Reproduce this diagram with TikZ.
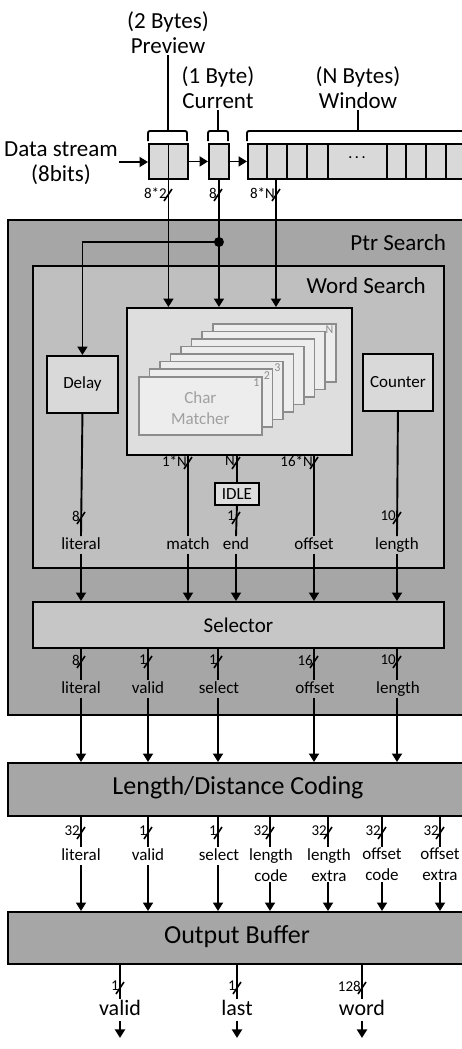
\documentclass[tikz,border=0pt]{standalone}
\usepackage{fontspec}
\setmainfont{Carlito}
\usetikzlibrary{arrows.meta,calc}
\definecolor{gPtr}{HTML}{A6A6A6}
\definecolor{gWord}{HTML}{BFBFBF}
\definecolor{gCM}{HTML}{DEDEDE}
\definecolor{gCard}{HTML}{EDEDED}
\definecolor{gCardLine}{HTML}{8C8C8C}
\definecolor{gCardText}{HTML}{A0A0A0}
\definecolor{gCell}{HTML}{D9D9D9}
\definecolor{gSel}{HTML}{C6C6C6}
\newcommand\busmk[3]{%
  \draw[slash] ($(#1)+(-4,6)$) -- ($(#1)+(4,-6)$);
  \node[bus] (#2) at ($(#1)+(-1,-2)$) {#3};}
\newcommand\mkbox[7]{%
  \node[blk,#6,minimum width={(#4-#2)*1pt},minimum height={(#5-#3)*1pt}] (#1) at (#2,#3) {#7};}
\begin{document}
\begin{tikzpicture}[x=1pt,y=-1pt,
  wire/.style={line width=1.9pt},
  slash/.style={line width=1.6pt},
  arr/.style={wire,-{Triangle[width=10pt,length=8.5pt]}},
  blk/.style={draw,line width=1.9pt,inner sep=0pt,anchor=north west},
  toplab/.style={font=\fontsize{23}{25}\selectfont,align=center,inner sep=1pt},
  lab/.style={font=\fontsize{17}{21}\selectfont,inner sep=1pt,text height=12pt,text depth=3.5pt},
  lab2/.style={font=\fontsize{17}{21}\selectfont,inner sep=1pt,align=center,anchor=north},
  big/.style={font=\fontsize{26}{28}\selectfont,inner sep=0pt},
  outlab/.style={font=\fontsize{22}{24}\selectfont,inner sep=1pt,text height=15pt,text depth=4.5pt},
  bus/.style={font=\fontsize{15}{15}\selectfont,inner sep=0pt,anchor=east},
  num/.style={font=\fontsize{12}{12}\selectfont,text=gCardLine,inner sep=0pt,anchor=north east},
 ]
\useasboundingbox (0,0) rectangle (462,1049);

% ---------- input stream ----------
\node[toplab] (pvl) at (168,33) {(2 Bytes)\\Preview};
\node[toplab] (cul) at (218,88) {(1 Byte)\\Current};
\node[toplab] (wil) at (358,88) {(N Bytes)\\Window};
\node[toplab] (ds) at (61,163) {Data stream\\(8bits)};

\mkbox{pv}{148}{143}{187}{178}{fill=gCell}{}
\mkbox{cu}{208}{143}{228}{178}{fill=gCell}{}
\mkbox{win}{247}{143}{490}{178}{fill=gCell}{}
\draw[wire] (pv.north) -- (pv.south);
\foreach \x in {267,287,307,328,387,406,426,446,466}
  \draw[wire] (\x,143) -- (\x,178);
\node[font=\fontsize{14}{14}\selectfont] (dots) at (357,159) {· · ·};

% braces
\draw[wire,rounded corners=2pt] (148,141) -- (148,131) -- (187,131) -- (187,141);
\draw[wire,rounded corners=2pt] (208,141) -- (208,131) -- (228,131) -- (228,141);
\draw[wire,rounded corners=2pt] (247,141) -- (247,131) -- (490,131);
\draw[wire] (pvl.south) -- (pvl.south |- 0,131);
\draw[wire] (cul.south) -- (cul.south |- 0,131);
\draw[wire] (wil.south) -- (wil.south |- 0,131);

\draw[arr] (ds.east |- 0,162) -- (pv.west |- 0,162);
\draw[arr] (pv.east) -- (cu.west);
\draw[arr] (cu.east) -- (win.west);

% ---------- Ptr Search ----------
\mkbox{ptr}{7}{219}{490}{714}{fill=gPtr}{}
\node[font=\fontsize{23}{25}\selectfont,anchor=east,inner sep=0pt] (ptrl) at (446,243) {Ptr Search};
\mkbox{word}{32}{265}{443}{567}{fill=gWord}{}
\node[font=\fontsize{23}{25}\selectfont,anchor=east,inner sep=0pt] (wordl) at (426,286) {Word Search};

\mkbox{cm}{126}{307}{351}{454}{fill=gCM}{}
\foreach \i in {7,6,...,0}
  \node[draw=gCardLine,fill=gCard,line width=1.6pt,minimum width=123pt,minimum height=58pt,
        inner sep=0pt,anchor=north west] (card\i) at ({138+\i*10.57},{376-\i*7.57}) {};
\node[font=\fontsize{17}{21}\selectfont,text=gCardText,align=center] (cml) at ($(card0.center)+(0,2)$) {Char\\Matcher};
\node[num] (n1) at ($(card0.north east)+(-3,3)$) {1};
\node[num] (n2) at ($(card1.north east)+(-3,3)$) {2};
\node[num] (n3) at ($(card2.north east)+(-3,3)$) {3};
\node[num] (nN) at ($(card7.north east)+(-3,3)$) {N};

\mkbox{delay}{46}{355}{117}{412}{fill=gCell}{\fontsize{17}{21}\selectfont Delay}
\mkbox{counter}{362}{353}{432}{410}{fill=gCell}{\fontsize{17}{21}\selectfont Counter}
\mkbox{idle}{214}{482}{258}{504}{fill=gCM}{\fontsize{17}{21}\selectfont IDLE}

% inputs to char matcher
\coordinate (wtap) at (276,178);
\draw[arr] (pv.south) -- (pv.south |- cm.north);
\draw[arr] (cu.south) -- (cu.south |- cm.north);
\draw[arr] (wtap) -- (wtap |- cm.north);
\coordinate (jn) at (cu.south |- 0,242);
\fill (jn) circle[radius=5pt];
\draw[arr] (jn) -| (delay.north);
\busmk{168,195}{b1}{8*2}
\busmk{218,195}{b2}{8}
\busmk{276,195}{b3}{8*N}

% word search outputs
\node[lab] (wlit) at (81,545) {literal};
\node[lab] (wmat) at (188,545) {match};
\node[lab] (wend) at (236,545) {end};
\node[lab] (woff) at (314,545) {offset};
\node[lab] (wlen) at (397,545) {length};

\mkbox{sel}{32}{601}{443}{647}{fill=gSel}{\fontsize{21}{23}\selectfont Selector}

\draw[wire] (delay.south) -- (wlit.north);
\draw[wire] (wmat.north |- cm.south) -- (wmat.north);
\draw[wire] (idle.north |- cm.south) -- (idle.north);
\draw[wire] (idle.south) -- (wend.north);
\draw[wire] (woff.north |- cm.south) -- (woff.north);
\draw[wire] (counter.south) -- (wlen.north);
\foreach \n in {wlit,wmat,wend,woff,wlen}
  \draw[arr] (\n.south) -- (\n.south |- sel.north);
\busmk{188,463}{b4}{1*N}
\busmk{236,463}{b5}{N}
\busmk{314,463}{b6}{16*N}
\busmk{236,518}{b7}{1}
\busmk{81,518}{b8}{8}
\busmk{397,518}{b9}{10}

% selector outputs
\node[lab] (slit) at (81,689) {literal};
\node[lab] (sval) at (148,689) {valid};
\node[lab] (ssel) at (219,689) {select};
\node[lab] (soff) at (315,689) {offset};
\node[lab] (slen) at (398,689) {length};
\foreach \n/\x in {slit/81,sval/148,ssel/218,soff/314,slen/397}
  \draw[wire] (\x,647) -- (\n.north -| \x,0);
\busmk{81,662}{c1}{8}
\busmk{148,662}{c2}{1}
\busmk{218,662}{c3}{1}
\busmk{314,662}{c4}{16}
\busmk{397,662}{c5}{10}

% ---------- Length/Distance Coding ----------
\mkbox{ldc}{7}{762}{490}{815}{fill=gPtr}{}
\node[big] (ldcl) at (238,788) {Length/Distance Coding};
\foreach \n/\x in {slit/81,sval/148,ssel/218,soff/314,slen/397}
  \draw[arr] (\n.south -| \x,0) -- (\x,762);

\node[lab,anchor=north] (llit) at (81,847) {literal};
\node[lab,anchor=north] (lval) at (148,847) {valid};
\node[lab,anchor=north] (lsel) at (219,847) {select};
\node[lab2] (llc) at (271,847) {length\\code};
\node[lab2] (lle) at (329,847) {length\\extra};
\node[lab2] (loc) at (382,847) {offset\\code};
\node[lab2] (loe) at (440,847) {offset\\extra};

\mkbox{ob}{7}{911}{490}{963}{fill=gPtr}{}
\node[big] (obl) at (237,937) {Output Buffer};

\foreach \n/\x in {llit/81,lval/148,lsel/218,llc/270,lle/328,loc/382,loe/440}{
  \draw[wire] (\x,815) -- (\n.north -| \x,0);
  \draw[arr] (\n.south -| \x,0) -- (\x,911);}
\busmk{81,833}{d1}{32}
\busmk{148,833}{d2}{1}
\busmk{218,833}{d3}{1}
\busmk{270,833}{d4}{32}
\busmk{328,833}{d5}{32}
\busmk{382,833}{d6}{32}
\busmk{440,833}{d7}{32}

% ---------- outputs ----------
\node[outlab] (oval) at (120,1010) {valid};
\node[outlab] (olast) at (237,1010) {last};
\node[outlab] (oword) at (362,1010) {word};
\foreach \n in {oval,olast,oword}{
  \draw[wire] (\n.north |- ob.south) -- (\n.north);
  \coordinate (\n e) at ($(\n.south)+(0,17)$);
  \draw[arr] (\n.south) -- (\n e);}
\busmk{120,988}{e1}{1}
\busmk{237,988}{e2}{1}
\busmk{362,988}{e3}{128}
\end{tikzpicture}
\end{document}
